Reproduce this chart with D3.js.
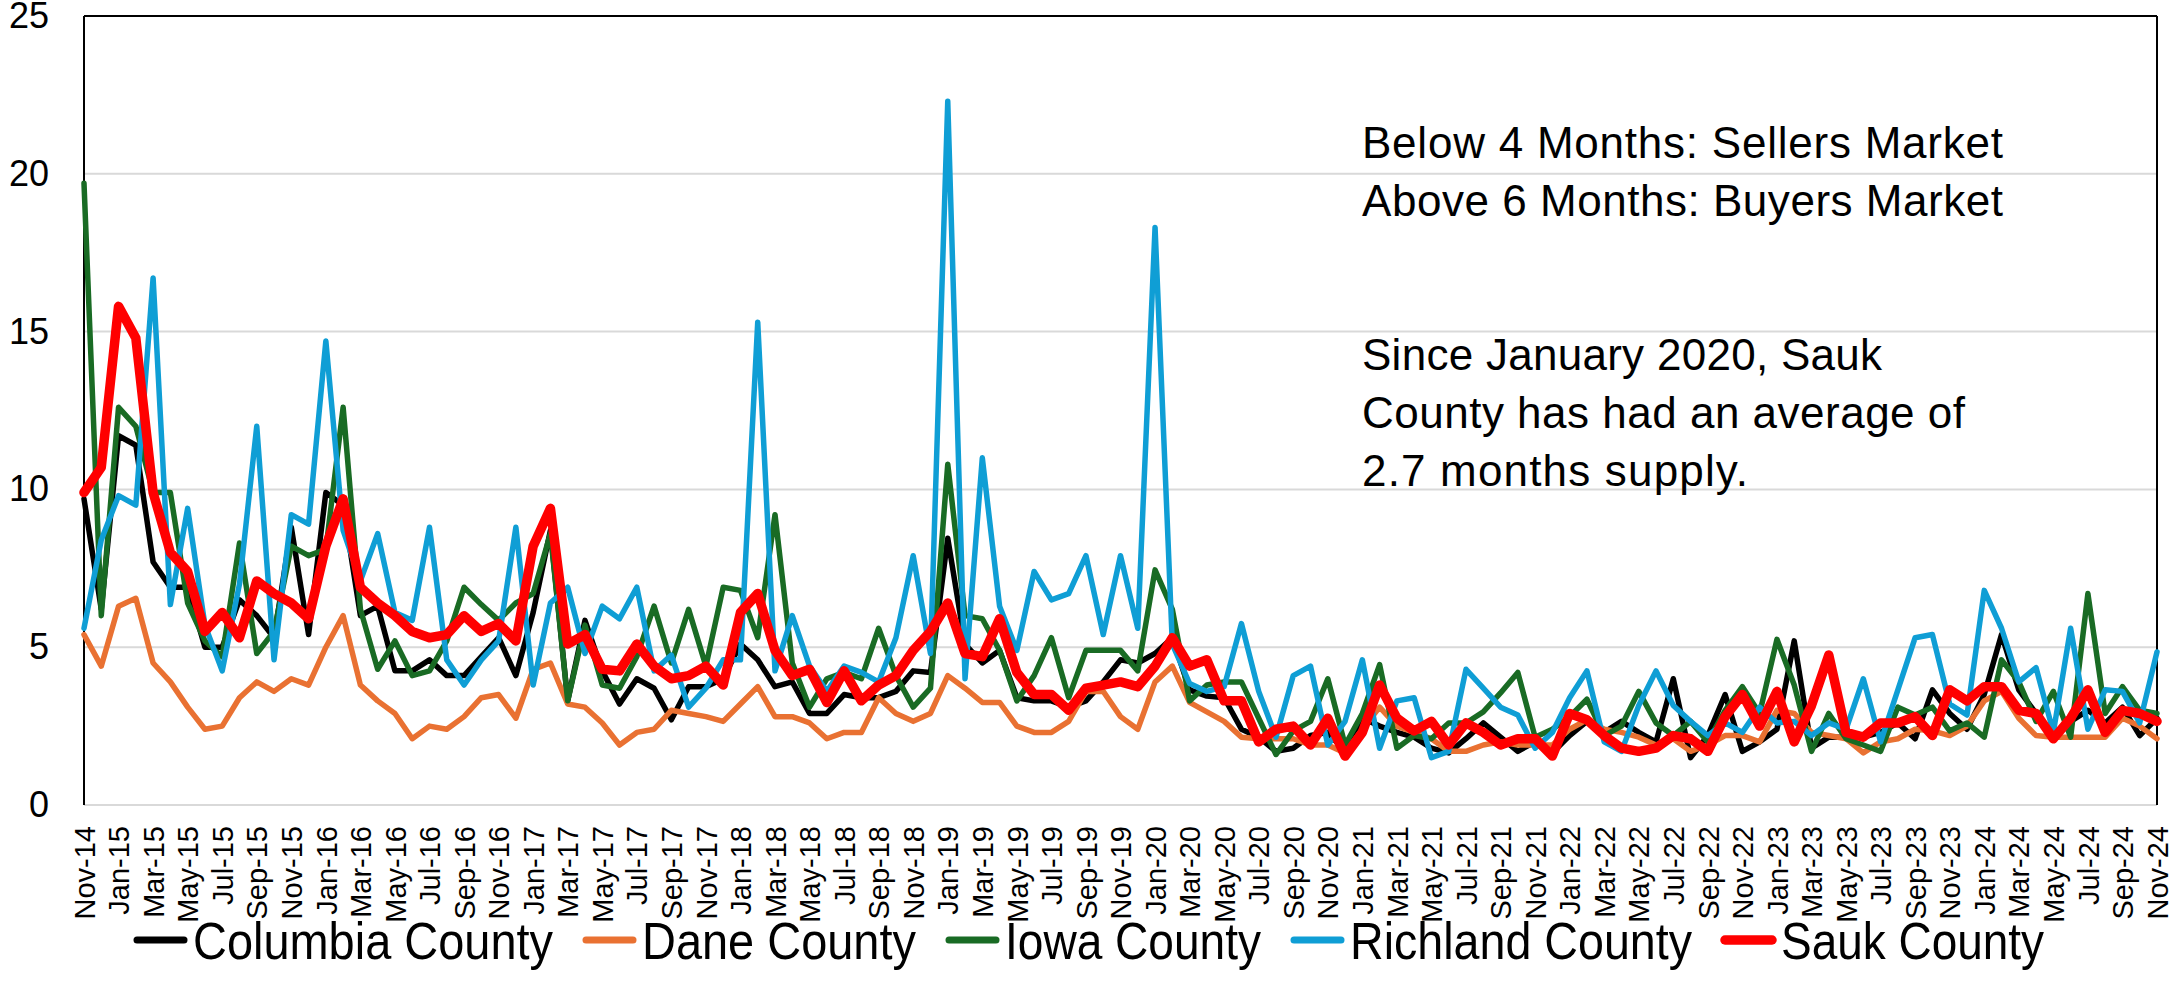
<!DOCTYPE html>
<html><head><meta charset="utf-8">
<script src="https://cdn.jsdelivr.net/npm/d3@7"></script>
<style>html,body{margin:0;padding:0;background:#fff;} svg{display:block}</style>
</head><body>
<svg id="chart" width="2169" height="1004"></svg>
<script>
const months = [
"Nov-14","Dec-14",
"Jan-15","Feb-15","Mar-15","Apr-15","May-15","Jun-15","Jul-15","Aug-15","Sep-15","Oct-15","Nov-15","Dec-15",
"Jan-16","Feb-16","Mar-16","Apr-16","May-16","Jun-16","Jul-16","Aug-16","Sep-16","Oct-16","Nov-16","Dec-16",
"Jan-17","Feb-17","Mar-17","Apr-17","May-17","Jun-17","Jul-17","Aug-17","Sep-17","Oct-17","Nov-17","Dec-17",
"Jan-18","Feb-18","Mar-18","Apr-18","May-18","Jun-18","Jul-18","Aug-18","Sep-18","Oct-18","Nov-18","Dec-18",
"Jan-19","Feb-19","Mar-19","Apr-19","May-19","Jun-19","Jul-19","Aug-19","Sep-19","Oct-19","Nov-19","Dec-19",
"Jan-20","Feb-20","Mar-20","Apr-20","May-20","Jun-20","Jul-20","Aug-20","Sep-20","Oct-20","Nov-20","Dec-20",
"Jan-21","Feb-21","Mar-21","Apr-21","May-21","Jun-21","Jul-21","Aug-21","Sep-21","Oct-21","Nov-21","Dec-21",
"Jan-22","Feb-22","Mar-22","Apr-22","May-22","Jun-22","Jul-22","Aug-22","Sep-22","Oct-22","Nov-22","Dec-22",
"Jan-23","Feb-23","Mar-23","Apr-23","May-23","Jun-23","Jul-23","Aug-23","Sep-23","Oct-23","Nov-23","Dec-23",
"Jan-24","Feb-24","Mar-24","Apr-24","May-24","Jun-24","Jul-24","Aug-24","Sep-24","Oct-24","Nov-24"];
const tickLabels = months.filter((m, i) => i % 2 === 0);
const yTicks = [0, 5, 10, 15, 20, 25];

const columbia = [9.7,6.2,11.7,11.4,7.7,6.9,6.9,5.0,5.0,6.5,6.0,5.3,8.8,5.4,9.9,9.5,6.0,6.3,4.25,4.25,4.6,4.1,4.1,4.7,5.3,4.1,6.1,8.7,3.3,5.85,
4.25,3.2,4.0,3.7,2.7,3.75,3.75,4.0,5.1,4.6,3.75,3.9,2.9,2.9,3.5,3.4,3.4,3.6,4.25,4.2,8.45,5.1,4.5,4.9,3.4,3.3,3.3,3.1,3.3,3.9,
4.6,4.5,4.8,5.3,3.65,3.45,3.4,2.4,2.15,1.7,1.8,2.2,2.3,1.7,2.75,2.5,2.3,2.15,1.8,1.65,2.1,2.6,2.15,1.7,2.0,1.65,2.2,2.65,2.3,2.65,
2.3,2.0,4.0,1.5,2.2,3.5,1.7,2.0,2.4,5.2,1.8,2.15,2.15,2.15,2.3,2.6,2.1,3.65,2.9,2.4,3.5,5.4,3.65,2.9,2.2,2.65,3.0,2.6,3.1,2.2,2.75];
const dane = [5.4,4.4,6.3,6.55,4.5,3.9,3.1,2.4,2.5,3.4,3.9,3.6,4.0,3.8,5.0,6.0,3.8,3.3,2.9,2.1,2.5,2.4,2.8,3.4,3.5,2.75,4.3,4.5,3.2,3.1,
2.6,1.9,2.3,2.4,3.0,2.9,2.8,2.65,3.2,3.75,2.8,2.8,2.6,2.1,2.3,2.3,3.4,2.9,2.65,2.9,4.1,3.7,3.25,3.25,2.5,2.3,2.3,2.65,3.6,3.6,
2.8,2.4,3.9,4.4,3.25,2.95,2.65,2.15,2.1,2.1,2.1,1.9,1.9,1.65,2.4,3.1,2.5,2.3,2.1,1.7,1.7,1.9,2.0,1.9,1.9,1.9,2.4,2.7,2.4,2.3,
2.15,1.9,2.1,1.7,1.9,2.2,2.2,2.0,3.0,2.9,2.3,2.2,2.1,1.65,2.0,2.1,2.4,2.35,2.2,2.5,3.3,3.6,2.75,2.2,2.15,2.15,2.15,2.15,2.75,2.5,2.1];
const iowa = [19.7,6.0,12.6,12.0,9.9,9.9,6.4,5.2,4.7,8.3,4.8,5.5,8.2,7.9,8.1,12.6,6.2,4.3,5.2,4.1,4.25,5.2,6.9,6.35,5.85,6.4,6.7,8.6,3.3,5.7,
3.8,3.7,4.7,6.3,4.5,6.2,4.4,6.9,6.8,5.3,9.2,4.5,3.1,4.0,4.2,4.0,5.6,4.1,3.1,3.7,10.8,6.0,5.9,4.9,3.3,4.1,5.3,3.4,4.9,4.9,
4.9,4.25,7.45,6.2,3.3,3.8,3.9,3.9,2.75,1.6,2.35,2.65,4.0,1.9,2.9,4.45,1.8,2.2,2.1,2.6,2.6,2.95,3.55,4.2,2.15,2.4,2.8,3.35,2.2,2.5,
3.6,2.6,2.2,2.65,2.0,3.0,3.75,2.9,5.25,3.8,1.7,2.9,2.1,1.9,1.7,3.1,2.85,3.1,2.35,2.6,2.15,4.6,3.9,2.65,3.6,2.15,6.7,2.9,3.75,3.0,2.9];
const richland = [5.6,8.4,9.8,9.5,16.7,6.35,9.4,5.7,4.25,7.0,12.0,4.6,9.2,8.9,14.7,8.7,7.1,8.6,6.1,5.85,8.8,4.6,3.8,4.6,5.2,8.8,3.8,6.4,6.9,4.8,
6.3,5.9,6.9,4.25,4.75,3.1,3.7,4.6,4.6,15.3,4.25,6.0,4.4,3.6,4.4,4.2,3.9,5.3,7.9,4.8,22.3,4.0,11.0,6.3,4.9,7.4,6.5,6.7,7.9,5.4,
7.9,5.6,18.3,5.1,3.85,3.6,3.75,5.75,3.6,2.15,4.1,4.4,1.9,2.65,4.6,1.8,3.3,3.4,1.5,1.7,4.3,3.7,3.1,2.85,1.8,2.3,3.4,4.25,2.0,1.7,
3.15,4.25,3.15,2.65,2.2,2.6,2.3,3.1,2.6,2.65,2.2,2.6,2.4,4.0,2.0,3.65,5.3,5.4,3.2,2.85,6.8,5.6,3.9,4.35,2.3,5.6,2.4,3.65,3.6,2.6,4.85];
const sauk = [9.9,10.7,15.8,14.8,9.9,8.0,7.4,5.5,6.1,5.3,7.1,6.7,6.4,5.9,8.2,9.7,6.9,6.4,6.0,5.5,5.3,5.4,6.0,5.5,5.75,5.2,8.2,9.4,5.1,5.4,
4.3,4.25,5.1,4.4,4.0,4.1,4.4,3.8,6.1,6.7,4.9,4.1,4.3,3.25,4.25,3.3,3.8,4.1,4.9,5.5,6.4,4.8,4.7,5.9,4.2,3.5,3.5,3.0,3.7,3.8,
3.9,3.75,4.4,5.3,4.4,4.6,3.3,3.3,2.0,2.4,2.5,1.9,2.75,1.55,2.3,3.8,2.75,2.35,2.65,1.9,2.6,2.3,1.9,2.1,2.1,1.55,2.9,2.7,2.2,1.8,
1.7,1.8,2.2,2.1,1.7,2.8,3.5,2.5,3.6,2.0,3.15,4.75,2.3,2.15,2.6,2.6,2.8,2.2,3.65,3.3,3.75,3.75,3.0,2.9,2.1,2.75,3.65,2.3,3.0,2.9,2.65];

const seriesNames = ["Columbia County","Dane County","Iowa County","Richland County","Sauk County"];
const seriesValues = [columbia, dane, iowa, richland, sauk];
const seriesColors = ["#000000","#E97132","#196B24","#0F9ED5","#FF0000"];
const notes = ["Below 4 Months: Sellers Market","Above 6 Months: Buyers Market",
               "Since January 2020, Sauk","County has had an average of","2.7 months supply."];

// ---- layout ----
const L = 84, R = 2157, T = 16, B = 805;
const svg = d3.select("#chart");
svg.append("rect").attr("width",2169).attr("height",1004).attr("fill","#fff");

const x = d3.scalePoint().domain(months).range([L, R]);
const y = d3.scaleLinear().domain([0, 25]).range([B, T]);

// gridlines
svg.append("g").selectAll("line").data(yTicks.filter(v => v < 25)).join("line")
  .attr("x1", L).attr("x2", R).attr("y1", d => y(d)).attr("y2", d => y(d))
  .attr("stroke", "#d9d9d9").attr("stroke-width", 2);

// borders
const bd = svg.append("g").attr("stroke","#000").attr("stroke-width",2);
bd.append("line").attr("x1",L).attr("x2",R).attr("y1",y(25)).attr("y2",y(25));
bd.append("line").attr("x1",L).attr("x2",L).attr("y1",y(25)).attr("y2",y(0));
bd.append("line").attr("x1",R).attr("x2",R).attr("y1",y(25)).attr("y2",y(0));

// y axis
const ya = svg.append("g").attr("transform","translate(49,0)")
  .call(d3.axisLeft(y).tickValues(yTicks).tickSize(0).tickPadding(0).tickFormat(d3.format("d")));
ya.select(".domain").remove();
ya.selectAll("text").attr("font-family","'Liberation Sans', Arial, sans-serif").attr("font-size",36).attr("fill","#000");

// x axis
const xa = svg.append("g").attr("transform",`translate(0,${B+15})`)
  .call(d3.axisBottom(x).tickValues(tickLabels).tickSize(0).tickPadding(0));
xa.select(".domain").remove();
xa.selectAll("text")
  .attr("font-family","'Liberation Sans', Arial, sans-serif").attr("font-size",29).attr("fill","#000")
  .attr("transform","rotate(-90)").attr("x",-6).attr("y",0).attr("dy","0.35em").style("text-anchor","end");

// lines
const line = d3.line().x((d, i) => x(months[i])).y(d => y(d));
svg.append("g").selectAll("path").data(seriesValues).join("path")
  .attr("d", d => line(d)).attr("fill","none")
  .attr("stroke", (d, i) => seriesColors[i])
  .attr("stroke-width", (d, i) => i === 4 ? 9.5 : 5.5)
  .attr("stroke-linejoin","round").attr("stroke-linecap","round");

// annotation
const noteX = 1362, noteBase = [158, 216, 370, 428, 486], noteW = [641, 641, 520, 603, 386];
svg.append("g").selectAll("text").data(notes).join("text")
  .attr("x", noteX).attr("y", (d, i) => noteBase[i])
  .attr("textLength", (d, i) => noteW[i]).attr("lengthAdjust","spacing")
  .attr("font-family","'Liberation Sans', Arial, sans-serif").attr("font-size",44).attr("fill","#000")
  .text(d => d);

// legend
const legW = [360, 274, 256, 342, 263];
let cx = 134;
const lg = svg.append("g");
seriesNames.forEach((name, i) => {
  lg.append("line").attr("x1", cx + 3).attr("x2", cx + 50).attr("y1", 940).attr("y2", 940)
    .attr("stroke", seriesColors[i]).attr("stroke-width", i === 4 ? 9.5 : 7).attr("stroke-linecap","round");
  lg.append("text").attr("x", cx + 59).attr("y", 959)
    .attr("textLength", legW[i]).attr("lengthAdjust","spacingAndGlyphs")
    .attr("font-family","'Liberation Sans Narrow', 'Liberation Sans', Arial, sans-serif")
    .attr("font-size", 52).attr("fill","#000").text(name);
  cx += 53 + 6 + legW[i] + 30;
});
</script>
</body></html>
